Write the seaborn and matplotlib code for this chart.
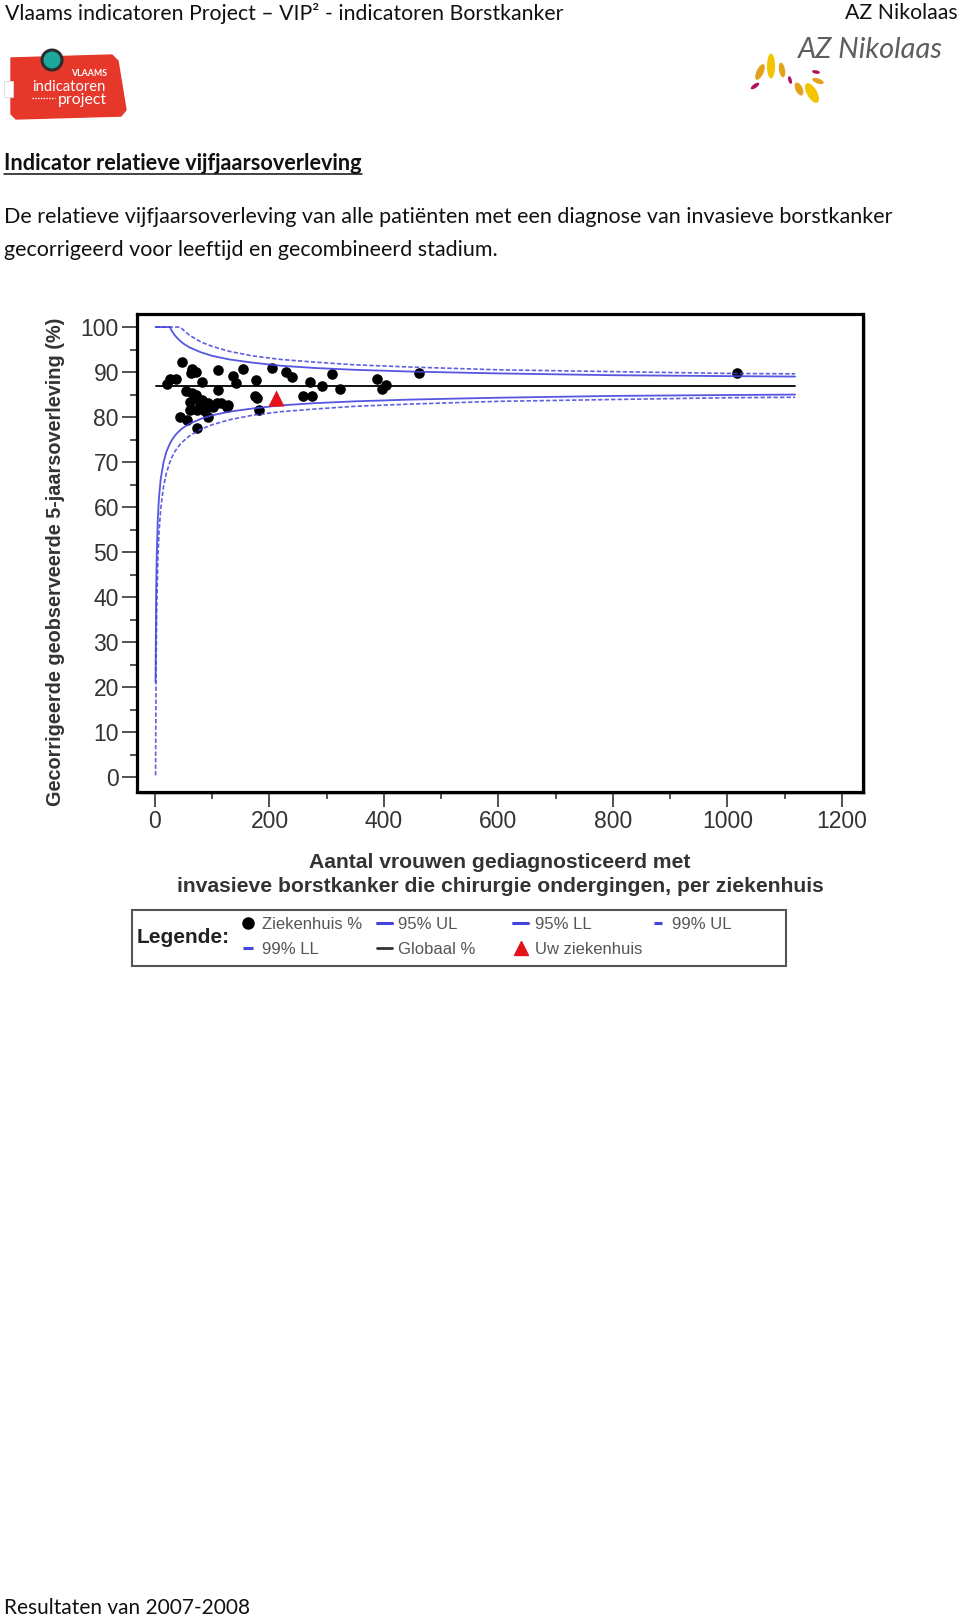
import matplotlib
matplotlib.use("Agg")
import matplotlib.pyplot as plt
import seaborn as sns
from matplotlib.patches import Rectangle, Circle, Ellipse, Polygon
from matplotlib.lines import Line2D

# ---------------- data ----------------
hosp_n = [47, 64, 72, 63, 110, 137, 153, 141, 82, 27, 37, 21, 177, 204, 229, 239,
          270, 291, 110, 175, 178, 259, 275, 181, 309, 323, 388, 403, 396, 462, 1016,
          54, 64, 72, 82, 61, 73, 79, 84, 93, 101, 108, 116, 125, 128, 61, 73, 87,
          44, 56, 93, 73]
hosp_pct = [92.3, 90.6, 90.0, 89.7, 90.4, 89.2, 90.7, 87.6, 87.9, 88.4, 88.4, 87.4,
            88.2, 91.0, 90.0, 89.0, 87.9, 86.8, 86.0, 84.6, 84.2, 84.7, 84.7, 81.6,
            89.6, 86.2, 88.4, 87.1, 86.3, 89.9, 89.9,
            85.7, 85.3, 84.8, 83.8, 83.4, 84.2, 82.7, 82.3, 83.2, 82.3, 83.1, 83.2,
            82.3, 82.7, 81.6, 81.6, 81.4, 80.0, 79.4, 80.0, 77.5]
own_n = [211]
own_pct = [84.3]

lim_n = [1, 2, 3, 5, 7, 10, 15, 20, 26, 30, 35, 40, 45, 50, 60, 80, 100, 130, 170,
         220, 280, 350, 450, 600, 800, 1000, 1118]
ul95 = [100, 100, 100, 100, 100, 100, 100, 100, 100, 99.0, 98.1, 97.4, 96.8, 96.3,
        95.5, 94.4, 93.6, 92.8, 92.1, 91.4, 90.9, 90.5, 90.1, 89.7, 89.3, 89.1, 89.0]
ll95 = [21.1, 40.4, 48.9, 57.5, 62.1, 66.2, 70.0, 72.3, 74.1, 75.0, 75.9, 76.6, 77.2,
        77.7, 78.5, 79.6, 80.4, 81.2, 81.9, 82.6, 83.1, 83.5, 83.9, 84.3, 84.7, 84.9, 85.0]
ul99 = [100, 100, 100, 100, 100, 100, 100, 100, 100, 100, 100, 100, 99.9, 99.3,
        98.2, 96.7, 95.7, 94.6, 93.6, 92.8, 92.2, 91.6, 91.1, 90.5, 90.1, 89.7, 89.6]
ll99 = [0.4, 25.7, 37.0, 48.3, 54.3, 59.6, 64.6, 67.6, 70.0, 71.2, 72.4, 73.3, 74.1,
        74.7, 75.8, 77.3, 78.3, 79.4, 80.4, 81.2, 81.8, 82.4, 82.9, 83.5, 83.9, 84.3, 84.4]
glob_n = [1, 1118]
glob_pct = [87, 87]

x_ticks = [0, 200, 400, 600, 800, 1000, 1200]
y_ticks = [0, 10, 20, 30, 40, 50, 60, 70, 80, 90, 100]

header_left = "Vlaams indicatoren Project – VIP² - indicatoren Borstkanker"
header_right = "AZ Nikolaas"
title_txt = "Indicator relatieve vijfjaarsoverleving"
desc1 = "De relatieve vijfjaarsoverleving van alle patiënten met een diagnose van invasieve borstkanker"
desc2 = "gecorrigeerd voor leeftijd en gecombineerd stadium."
footer_txt = "Resultaten van 2007-2008"
ylabel_txt = "Gecorrigeerde geobserveerde 5-jaarsoverleving (%)"
xlabel_txt = "Aantal vrouwen gediagnosticeerd met\ninvasieve borstkanker die chirurgie ondergingen, per ziekenhuis"
leg_labels = ["Ziekenhuis %", "99% LL", "95% UL", "Globaal %", "95% LL", "Uw ziekenhuis", "99% UL"]

# ---------------- style ----------------
sns.set_theme(style="ticks")
plt.rcParams["font.family"] = ["Liberation Sans", "DejaVu Sans"]
PAGE_FONT = ["Lato", "DejaVu Sans"]
blue = "#4343dd"
dash = (0, (2.6, 1.3))
grey_txt = "#333333"

fig = plt.figure(figsize=(9.6, 16.19), dpi=100, facecolor="white")
page = fig.add_axes([0, 0, 1, 1])
page.set_xlim(0, 960)
page.set_ylim(1619, 0)
page.axis("off")
renderer = fig.canvas.get_renderer()


def fit(t, w, vertical=False):
    bb = t.get_window_extent(renderer)
    size = bb.height if vertical else bb.width
    t.set_fontsize(t.get_fontsize() * w / size)


# ---------------- page texts ----------------
th = page.text(5, 13, header_left, fontsize=15, family=PAGE_FONT, va="center", color="#111")
fit(th, 558)
page.text(958, 13, header_right, fontsize=th.get_fontsize(), family=PAGE_FONT,
          va="center", ha="right", color="#111")

tt = page.text(4, 164, title_txt, fontsize=14, family=PAGE_FONT, fontweight="bold",
               va="center", color="#111")
fit(tt, 359)
bb = tt.get_window_extent(renderer)
inv = page.transData.inverted()
ux0 = inv.transform((bb.x0, bb.y0))[0]
ux1 = inv.transform((bb.x1, bb.y0))[0]
page.plot([ux0, ux1], [174.5, 174.5], color="#111", lw=1.1)

td1 = page.text(4, 217, desc1, fontsize=14, family=PAGE_FONT, va="center", color="#111")
fit(td1, 888)
page.text(4, 250, desc2, fontsize=td1.get_fontsize(), family=PAGE_FONT, va="center", color="#111")
tf = page.text(4, 1608, footer_txt, fontsize=14, family=PAGE_FONT, va="center", color="#111")
fit(tf, 246)

# ---------------- logos (decorative) ----------------
page.add_patch(Polygon([(11, 58), (112, 55), (118, 61), (126, 110), (121, 116), (16, 119), (11, 114)],
                       closed=True, facecolor="#e5382a", edgecolor="#e5382a", lw=1, joinstyle="round"))
page.add_patch(Rectangle((4, 81), 9, 16, facecolor="white", edgecolor="#dddddd", lw=0.6))
page.add_patch(Circle((52, 60), 11.5, facecolor="#2b2b2b", edgecolor="none"))
page.add_patch(Circle((52, 60), 8.5, facecolor="#1ea79d", edgecolor="none"))
tv = page.text(107, 74, "VLAAMS", fontsize=7, family=PAGE_FONT, fontweight="bold", color="white",
               ha="right", va="center")
fit(tv, 36)
ti = page.text(106, 87, "indicatoren", fontsize=11, family=PAGE_FONT, color="white", ha="right", va="center")
fit(ti, 73)
tp = page.text(107, 100, "project", fontsize=11, family=PAGE_FONT, color="white", ha="right", va="center")
fit(tp, 49)
page.plot([32, 55], [98, 98], color="white", lw=1.0, ls=(0, (1, 1)))

taz = page.text(798, 50, "AZ Nikolaas", fontsize=17, family=PAGE_FONT, style="italic",
                color="#5e5e5e", va="center")
fit(taz, 145)
for (cx, cy, w, h, ang, col) in [
        (771, 66, 8, 25, 0, "#f3c400"), (760, 72, 7, 17, 25, "#e3a21c"),
        (782, 70, 6, 15, -10, "#e3a21c"), (755, 86, 4, 10, 55, "#b2125a"),
        (790, 80, 3.5, 8, -15, "#b2125a"), (799, 89, 7, 14, -25, "#e3a21c"),
        (812, 93, 10, 22, -30, "#f3c400"), (816, 72, 8, 3.5, 10, "#b2125a"),
        (818, 81, 12, 5, 20, "#e3a21c")]:
    page.add_patch(Ellipse((cx, cy), w, h, angle=ang, facecolor=col, edgecolor="none"))

# frame shadow
page.add_patch(Rectangle((140, 317), 726, 478, facecolor="#c9c9c9", edgecolor="none"))

# ---------------- chart ----------------
ax = fig.add_axes([137 / 960, 1 - 792 / 1619, 726 / 960, 478 / 1619])
ax.set_facecolor("white")

sns.scatterplot(x=hosp_n, y=hosp_pct, ax=ax, color="black", s=58, linewidth=0, zorder=2, legend=False)
sns.scatterplot(x=own_n, y=own_pct, ax=ax, marker="^", color="#e4121b", s=135, linewidth=0,
                zorder=5, legend=False)
sns.lineplot(x=glob_n, y=glob_pct, ax=ax, color="black", lw=1.3, estimator=None, sort=False, zorder=3)
sns.lineplot(x=lim_n, y=ul95, ax=ax, color=blue, lw=1.3, alpha=0.9, estimator=None, sort=False, zorder=4)
sns.lineplot(x=lim_n, y=ll95, ax=ax, color=blue, lw=1.3, alpha=0.9, estimator=None, sort=False, zorder=4)
sns.lineplot(x=lim_n, y=ul99, ax=ax, color=blue, lw=1.2, alpha=0.85, linestyle=dash,
             estimator=None, sort=False, zorder=4)
sns.lineplot(x=lim_n, y=ll99, ax=ax, color=blue, lw=1.2, alpha=0.85, linestyle=dash,
             estimator=None, sort=False, zorder=4)

ax.set_xlim(-31.4, 1236.7)
ax.set_ylim(-3.3, 102.9)
ax.set_xticks(x_ticks)
ax.set_xticks([100, 300, 500, 700, 900, 1100], minor=True)
ax.set_yticks(y_ticks)
ax.set_yticks([5, 15, 25, 35, 45, 55, 65, 75, 85, 95], minor=True)
ax.tick_params(which="major", length=11, width=1.2, color="#333", labelsize=16.5,
               labelcolor=grey_txt, pad=2)
ax.tick_params(which="minor", length=5, width=1.2, color="#333")
for s in ax.spines.values():
    s.set_linewidth(2.3)
    s.set_color("black")

ax.set_ylabel(ylabel_txt, fontsize=14, fontweight="bold", color=grey_txt)
ax.yaxis.set_label_coords(-0.099, 0.481)
ax.set_xlabel(xlabel_txt, fontsize=15, fontweight="bold", color=grey_txt, linespacing=1.35)
ax.xaxis.set_label_coords(0.5, -0.128)
fit(ax.xaxis.label, 651)
fit(ax.yaxis.label, 489, vertical=True)

# ---------------- legend ----------------
page.add_patch(Rectangle((132, 910), 654, 56, facecolor="white", edgecolor="#555", lw=1.5))
page.text(137, 937, "Legende:", fontsize=15, fontweight="bold", color="#222", va="center")

h_dot = Line2D([], [], marker="o", ls="none", color="black", markersize=8)
h_95 = Line2D([], [], color=blue, lw=2.2)
h_99 = Line2D([], [], color=blue, lw=2.2, ls=(0, (3.5, 2)))
h_glob = Line2D([], [], color="#333", lw=2.0)
h_own = Line2D([], [], marker="^", ls="none", color="#e4121b", markersize=10)

cols = [
    ([h_dot, h_99], leg_labels[0:2], 243, 0.6, 0.54),
    ([h_95, h_glob], leg_labels[2:4], 377, 0.9, 0.36),
    ([h_95, h_own], leg_labels[4:6], 513, 0.9, 0.42),
    ([h_99], leg_labels[6:7], 654, 0.5, 0.6),
]
for hs, ls_, x0, hl, hp in cols:
    fig.legend(handles=hs, labels=ls_, loc="upper left",
               bbox_to_anchor=(x0 / 960, 1 - 917 / 1619), bbox_transform=fig.transFigure,
               frameon=False, borderpad=0, borderaxespad=0, handlelength=hl,
               handletextpad=hp, labelspacing=0.6, fontsize=12, labelcolor="#555")

fig.savefig("out.png", dpi=100, facecolor="white")
